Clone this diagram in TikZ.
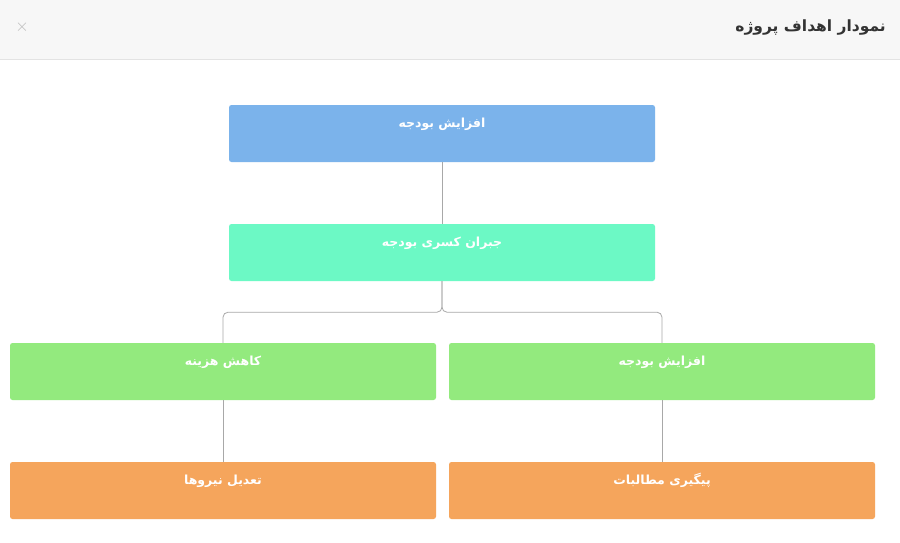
\documentclass[tikz,border=0pt]{standalone}
\usepackage{fontspec}
\TeXXeTstate=1
\newfontfamily\arabicfont[Script=Arabic]{DejaVu Sans}
\usetikzlibrary{calc}
\definecolor{hdrbg}{HTML}{F7F7F7}
\definecolor{hdrline}{HTML}{E3E3E3}
\definecolor{titlec}{HTML}{333333}
\definecolor{closec}{HTML}{BBBBBB}
\definecolor{cblue}{HTML}{7BB3EB}
\definecolor{cmint}{HTML}{6CF9C5}
\definecolor{cgreen}{HTML}{93EA7E}
\definecolor{corange}{HTML}{F5A55C}
\definecolor{linec}{HTML}{A8A8A8}
\tikzset{
  box/.style={draw=none, rounded corners=2.5pt, minimum width=426pt, minimum height=57pt, inner sep=0pt},
  lbl/.style={text=white, font=\arabicfont\bfseries\fontsize{12.5}{15}\selectfont, inner sep=0pt, anchor=center},
  conn/.style={draw=linec, line width=0.8pt, rounded corners=5pt},
}
\begin{document}
\begin{tikzpicture}[x=1pt,y=-1pt]
\useasboundingbox (0,0) rectangle (900,542);
\fill[white] (0,0) rectangle (900,542);
\fill[hdrbg] (0,0) rectangle (900,59);
\draw[hdrline, line width=0.8pt] (0,59) -- (900,59);
\node[text=titlec, font=\arabicfont\bfseries\fontsize{15.5}{18}\selectfont, anchor=east, inner sep=0pt] (title) at (886,27) {\beginR نمودار اهداف پروژه\endR};
\node[text=closec, font=\fontsize{17}{19}\selectfont, inner sep=0pt] (close) at (22,27) {$\times$};

\node[box, fill=cblue] (a) at (442,133.5) {};
\node[box, fill=cmint] (b) at (442,252.5) {};
\node[box, fill=cgreen] (c) at (223,371.5) {};
\node[box, fill=cgreen] (d) at (662,371.5) {};
\node[box, fill=corange] (e) at (223,490.5) {};
\node[box, fill=corange] (f) at (662,490.5) {};

\node[lbl] (at) at ($(a.north)+(0,19)$) {\beginR افزایش بودجه\endR};
\node[lbl] (bt) at ($(b.north)+(0,19)$) {\beginR جبران کسری بودجه\endR};
\node[lbl] (ct) at ($(c.north)+(0,19)$) {\beginR کاهش هزینه\endR};
\node[lbl] (dt) at ($(d.north)+(0,19)$) {\beginR افزایش بودجه\endR};
\node[lbl] (et) at ($(e.north)+(0,19)$) {\beginR تعدیل نیروها\endR};
\node[lbl] (ft) at ($(f.north)+(0,19)$) {\beginR پیگیری مطالبات\endR};

\draw[conn] (a.south) -- (b.north);
\draw[conn] (b.south) -- ++(0,31) -| (c.north);
\draw[conn] (b.south) -- ++(0,31) -| (d.north);
\draw[conn] (c.south) -- (e.north);
\draw[conn] (d.south) -- (f.north);
\end{tikzpicture}
\end{document}
